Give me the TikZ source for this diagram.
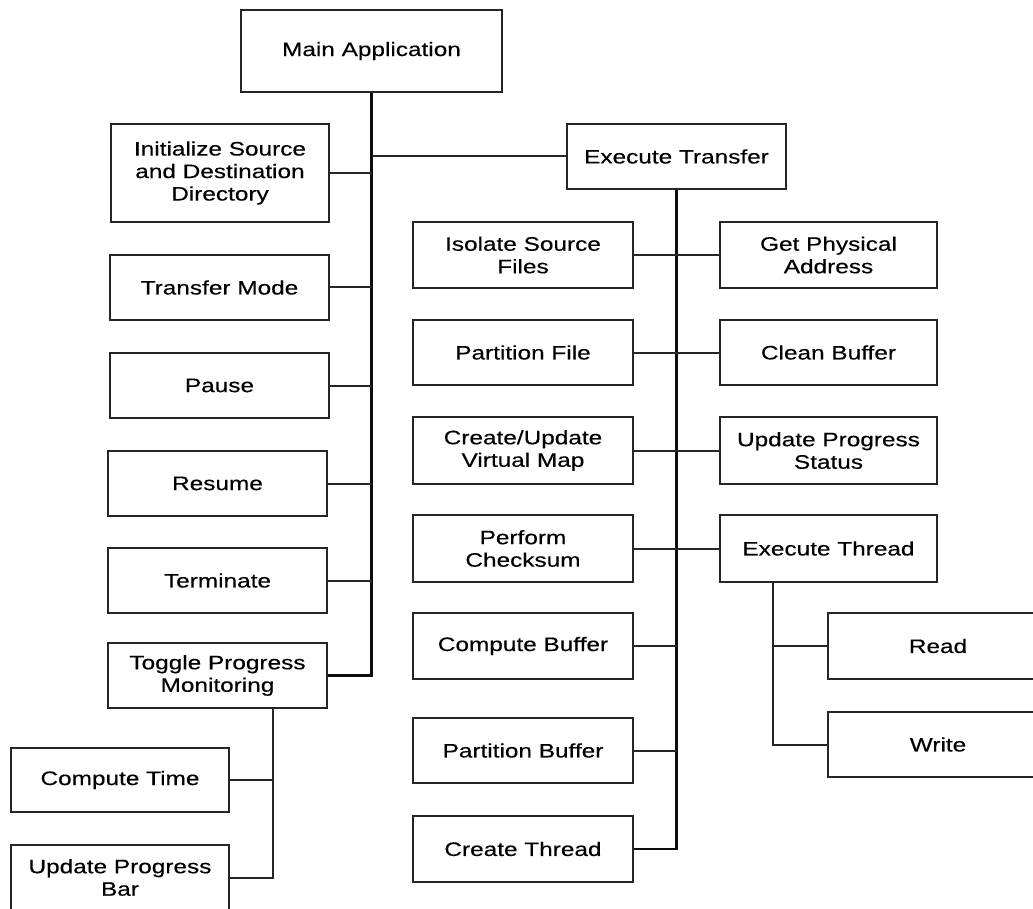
\documentclass[tikz,border=0pt]{standalone}
\usepackage{fontspec}
\setmainfont{Liberation Sans}[FakeStretch=1.25,FakeBold=0.35]
\usetikzlibrary{calc}
\tikzset{
  box/.style={draw=black!85, line width=2pt, rectangle, align=center,
    inner sep=0pt, text=black,
    font=\fontsize{19.5}{22.5}\selectfont},
  link/.style={draw=black!85, line width=2pt},
  trunk/.style={draw=black!95, line width=2.6pt},
}
\begin{document}
\begin{tikzpicture}[x=1pt,y=-1pt]
\useasboundingbox (0,0) rectangle (1033,909);

% top level
\node[box, minimum width=261pt, minimum height=82pt] (main) at (371.5,51) {Main Application};

% left column
\node[box, minimum width=218pt, minimum height=98pt] (init) at (220,173) {Initialize Source\\and Destination\\Directory};
\node[box, minimum width=219pt, minimum height=65pt] (tmode) at (219.5,287.5) {Transfer Mode};
\node[box, minimum width=219pt, minimum height=65pt] (pause) at (219.5,385.5) {Pause};
\node[box, minimum width=219pt, minimum height=65pt] (resume) at (217.5,483.5) {Resume};
\node[box, minimum width=219pt, minimum height=65pt] (term) at (217.5,580.5) {Terminate};
\node[box, minimum width=219pt, minimum height=65pt] (toggle) at (217.5,675.5) {Toggle Progress\\Monitoring};

% progress monitoring children
\node[box, minimum width=218pt, minimum height=64pt] (ctime) at (120,780) {Compute Time};
\node[box, minimum width=218pt, minimum height=65pt] (upbar) at (120,877.5) {Update Progress\\Bar};

% transfer branch
\node[box, minimum width=219pt, minimum height=65pt] (exec) at (676.5,156.5) {Execute Transfer};

\node[box, minimum width=220pt, minimum height=66pt] (iso) at (523,255) {Isolate Source\\Files};
\node[box, minimum width=220pt, minimum height=65pt] (pfile) at (523,352.5) {Partition File};
\node[box, minimum width=220pt, minimum height=67pt] (cupd) at (523,450.5) {Create/Update\\Virtual Map};
\node[box, minimum width=220pt, minimum height=67pt] (pcheck) at (523,548.5) {Perform\\Checksum};
\node[box, minimum width=220pt, minimum height=66pt] (cbuf) at (523,646) {Compute Buffer};
\node[box, minimum width=220pt, minimum height=65pt] (pbuf) at (523,750.5) {Partition Buffer};
\node[box, minimum width=220pt, minimum height=66pt] (cthr) at (523,849) {Create Thread};

\node[box, minimum width=217pt, minimum height=66pt] (gpa) at (828.5,255) {Get Physical\\Address};
\node[box, minimum width=217pt, minimum height=65pt] (clean) at (828.5,352.5) {Clean Buffer};
\node[box, minimum width=217pt, minimum height=67pt] (ups) at (828.5,450.5) {Update Progress\\Status};
\node[box, minimum width=217pt, minimum height=67pt] (ethr) at (828.5,548.5) {Execute Thread};

\node[box, minimum width=220pt, minimum height=66pt] (read) at (938,646) {Read};
\node[box, minimum width=220pt, minimum height=65pt] (write) at (938,744.5) {Write};

% branch points below parent boxes
\coordinate (et) at ([xshift=54pt]ethr.south west);
\coordinate (tg) at ([xshift=-55pt]toggle.south east);

% main application trunk
\draw[trunk] (main.south) -- (main.south |- toggle.east) -- (toggle.east);
\foreach \n in {init,tmode,pause,resume,term}
  \draw[link] (\n.east) -- (\n.east -| main.south);
\draw[link] (exec.west) -- (exec.west -| main.south);

% execute transfer trunk
\draw[trunk] (exec.south) -- (exec.south |- cthr.east) -- (cthr.east);
\foreach \n in {iso,pfile,cupd,pcheck,cbuf,pbuf}
  \draw[link] (\n.east) -- (\n.east -| exec.south);
\foreach \n in {gpa,clean,ups,ethr}
  \draw[link] (\n.west) -- (\n.west -| exec.south);

% execute thread branch
\draw[link] (et) -- (et |- write.west) -- (write.west);
\draw[link] (read.west) -- (read.west -| et);

% progress monitoring branch
\draw[link] (tg) -- (tg |- upbar.east) -- (upbar.east);
\draw[link] (ctime.east) -- (ctime.east -| tg);
\end{tikzpicture}
\end{document}
